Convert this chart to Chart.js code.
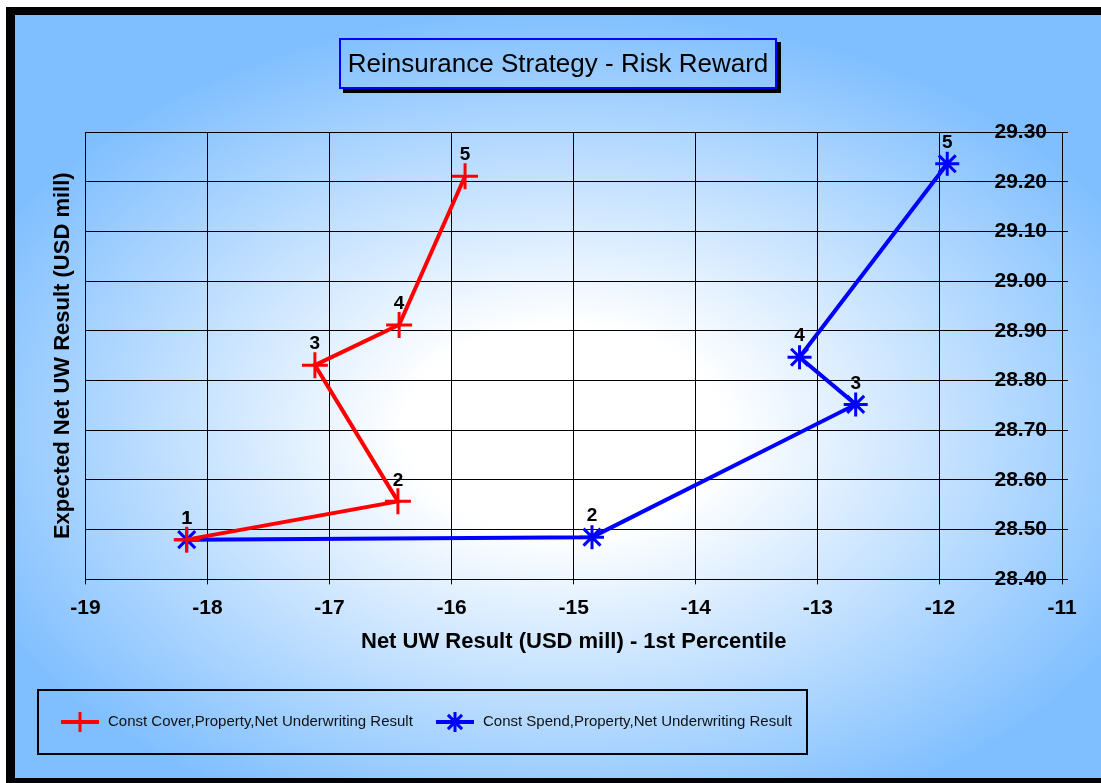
<!DOCTYPE html>
<html>
<head>
<meta charset="utf-8">
<script src="https://cdn.jsdelivr.net/npm/chart.js@4.4.1/dist/chart.umd.min.js"></script>
<style>
  html, body { margin: 0; padding: 0; background: #fff; }
  canvas { display: block; }
</style>
</head>
<body>
<canvas id="risk-chart" width="1101" height="783"></canvas>
<script>
// values
const pointLabels = ['1', '2', '3', '4', '5'];
const coverX = [-18.17, -16.44, -17.12, -16.43, -15.89];
const coverY = [28.48, 28.557, 28.831, 28.912, 29.211];
const spendX = [-18.17, -14.85, -12.69, -13.15, -11.94];
const spendY = [28.48, 28.485, 28.752, 28.847, 29.236];

const FONT = "'Liberation Sans', Arial, sans-serif";

function fillGlow(ctx, W, H) {
    const cx = 565, cy = 430, rx = 640, ry = 420;
    ctx.translate(cx, cy);
    ctx.scale(1, ry / rx);
    const g = ctx.createRadialGradient(0, 0, 0, 0, 0, rx);
    g.addColorStop(0, '#ffffff');
    g.addColorStop(0.25, '#ffffff');
    g.addColorStop(1, '#80bfff');
    ctx.fillStyle = g;
    ctx.fillRect(-cx, -cy * rx / ry, W, H * rx / ry);
}

// frame + radial background + title box
const backgroundPlugin = {
    id: 'background',
    beforeDraw(chart) {
        const ctx = chart.ctx;
        const W = chart.width, H = chart.height;
        ctx.save();
        ctx.fillStyle = '#fff';
        ctx.fillRect(0, 0, W, H);
        ctx.fillStyle = '#000';
        ctx.fillRect(6, 7, W - 6, H - 7);
        ctx.beginPath();
        ctx.rect(15, 15, W - 15, 778 - 15);
        ctx.clip();
        fillGlow(ctx, W, H);
        ctx.restore();

        // title box with its shadow
        ctx.save();
        ctx.fillStyle = '#000';
        ctx.fillRect(343, 42, 438, 51);
        ctx.beginPath();
        ctx.rect(339, 38, 438, 51);
        ctx.clip();
        fillGlow(ctx, W, H);
        ctx.restore();

        ctx.save();
        ctx.strokeStyle = '#0000ff';
        ctx.lineWidth = 2;
        ctx.strokeRect(340, 39, 436, 49);
        ctx.fillStyle = '#000';
        ctx.font = '26px ' + FONT;
        ctx.textAlign = 'center';
        ctx.textBaseline = 'middle';
        ctx.fillText('Reinsurance Strategy - Risk Reward', 558, 65);
        ctx.restore();
    }
};

// numbers above each point
const pointLabelPlugin = {
    id: 'pointLabels',
    afterDatasetsDraw(chart) {
        const ctx = chart.ctx;
        ctx.save();
        ctx.fillStyle = '#000';
        ctx.font = 'bold 19px ' + FONT;
        ctx.textAlign = 'center';
        ctx.textBaseline = 'middle';
        chart.data.datasets.forEach((ds, i) => {
            chart.getDatasetMeta(i).data.forEach((pt, j) => {
                ctx.fillText(pointLabels[j], pt.x, pt.y - 21);
            });
        });
        ctx.restore();
    }
};

// boxed legend at the bottom
const boxLegendPlugin = {
    id: 'boxLegend',
    afterDraw(chart) {
        const ctx = chart.ctx;
        ctx.save();
        ctx.strokeStyle = '#000';
        ctx.lineWidth = 2;
        ctx.strokeRect(38, 690, 769, 64);
        const items = [{ x: 61, tx: 108 }, { x: 436, tx: 483 }];
        chart.data.datasets.forEach((ds, i) => {
            const it = items[i];
            const y = 722;
            ctx.strokeStyle = ds.borderColor;
            ctx.lineWidth = 4;
            ctx.beginPath();
            ctx.moveTo(it.x, y);
            ctx.lineTo(it.x + 38, y);
            ctx.stroke();
            ctx.lineWidth = 3;
            Chart.helpers.drawPoint(ctx, { pointStyle: ds.pointStyle, radius: 10, borderWidth: 3, rotation: 0 }, it.x + 19, y);
            ctx.fillStyle = '#111';
            ctx.font = '15px ' + FONT;
            ctx.textAlign = 'left';
            ctx.textBaseline = 'middle';
            ctx.fillText(ds.label, it.tx, y);
        });
        ctx.restore();
    }
};

const ctx = document.getElementById('risk-chart').getContext('2d');
new Chart(ctx, {
    type: 'scatter',
    data: {
        datasets: [
            {
                label: 'Const Cover,Property,Net Underwriting Result',
                data: coverX.map((x, i) => ({ x: x, y: coverY[i] })),
                showLine: true,
                borderColor: '#ff0000',
                backgroundColor: '#ff0000',
                borderWidth: 4,
                pointStyle: 'cross',
                pointRadius: 13,
                pointBorderWidth: 3,
                pointHoverRadius: 13
            },
            {
                label: 'Const Spend,Property,Net Underwriting Result',
                data: spendX.map((x, i) => ({ x: x, y: spendY[i] })),
                showLine: true,
                borderColor: '#0000ff',
                backgroundColor: '#0000ff',
                borderWidth: 4,
                pointStyle: 'star',
                pointRadius: 12,
                pointBorderWidth: 3,
                pointHoverRadius: 12
            }
        ]
    },
    options: {
        responsive: false,
        animation: false,
        devicePixelRatio: 1,
        layout: { padding: { left: 40, top: 132, right: 0, bottom: 128 } },
        plugins: {
            legend: { display: false },
            title: { display: false },
            tooltip: { enabled: false }
        },
        scales: {
            x: {
                type: 'linear',
                min: -19,
                max: -11,
                ticks: {
                    stepSize: 1,
                    color: '#000',
                    padding: 11,
                    font: { family: FONT, size: 21, weight: 'bold' }
                },
                grid: { color: '#000', lineWidth: 1, tickLength: 5 },
                border: { color: '#000', width: 1 },
                title: {
                    display: true,
                    text: 'Net UW Result (USD mill) - 1st Percentile',
                    color: '#000',
                    padding: { top: -3, bottom: 0 },
                    font: { family: FONT, size: 22, weight: 'bold' }
                }
            },
            y: {
                type: 'linear',
                position: 'right',
                min: 28.4,
                max: 29.3,
                afterFit: s => { s.width = 39; },
                ticks: {
                    stepSize: 0.1,
                    mirror: true,
                    padding: -15,
                    color: '#000',
                    font: { family: FONT, size: 21, weight: 'bold' },
                    callback: v => v.toFixed(2)
                },
                grid: { color: '#000', lineWidth: 1, tickLength: 6 },
                border: { color: '#000', width: 1 }
            },
            yl: {
                type: 'linear',
                position: 'left',
                min: 28.4,
                max: 29.3,
                ticks: { display: false },
                grid: { display: false, drawTicks: false },
                border: { display: false },
                title: {
                    display: true,
                    text: 'Expected Net UW Result (USD mill)',
                    color: '#000',
                    padding: { top: 10, bottom: 9 },
                    font: { family: FONT, size: 22, weight: 'bold' }
                }
            }
        }
    },
    plugins: [backgroundPlugin, pointLabelPlugin, boxLegendPlugin]
});
</script>
</body>
</html>
